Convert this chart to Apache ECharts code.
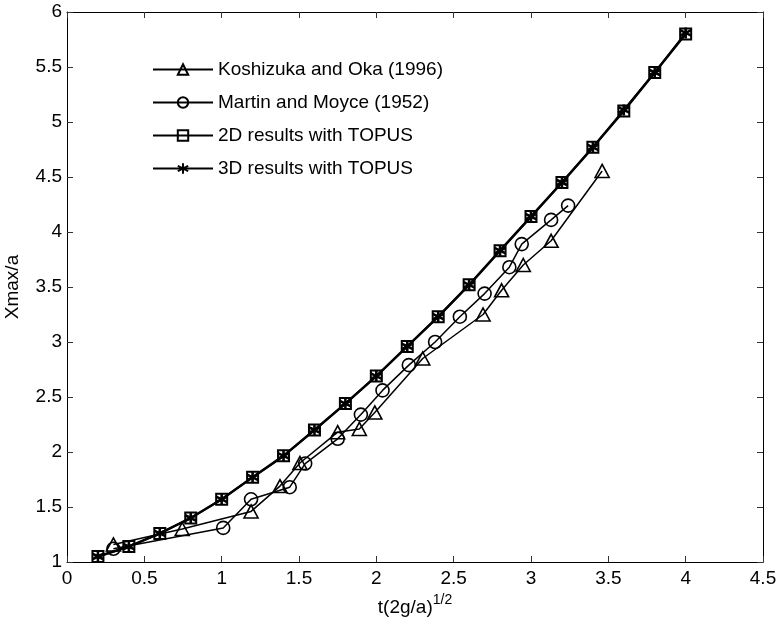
<!DOCTYPE html>
<html>
<head>
<meta charset="utf-8">
<script src="https://cdn.jsdelivr.net/npm/echarts@6/dist/echarts.min.js"></script>
<style>
  html, body { margin: 0; padding: 0; background: #fff; }
  #chart { width: 779px; height: 625px; }
</style>
</head>
<body>
<div id="chart"></div>
<script>
// Dam-break surge front position: Xmax/a against t(2g/a)^(1/2)

const koshizukaX = [0.30, 0.745, 1.19, 1.377, 1.506, 1.75, 1.89, 1.99, 2.30, 2.69, 2.81, 2.95, 3.13, 3.46];
const koshizukaY = [1.16, 1.30, 1.46, 1.69, 1.90, 2.18, 2.21, 2.36, 2.85, 3.25, 3.47, 3.70, 3.92, 4.555];

const martinX = [0.30, 1.01, 1.19, 1.44, 1.54, 1.75, 1.90, 2.04, 2.21, 2.38, 2.54, 2.70, 2.86, 2.94, 3.13, 3.24];
const martinY = [1.12, 1.31, 1.57, 1.68, 1.895, 2.12, 2.34, 2.56, 2.79, 3.00, 3.23, 3.44, 3.68, 3.89, 4.11, 4.24];

const topusX = [0.2, 0.4, 0.6, 0.8, 1.0, 1.2, 1.4, 1.6, 1.8, 2.0, 2.2, 2.4, 2.6, 2.8, 3.0, 3.2, 3.4, 3.6, 3.8, 4.0];
const topus2DY = [1.05, 1.14, 1.26, 1.40, 1.57, 1.77, 1.965, 2.20, 2.44, 2.69, 2.96, 3.23, 3.52, 3.83, 4.14, 4.45, 4.77, 5.10, 5.45, 5.80];
const topus3DY = [1.05, 1.14, 1.26, 1.40, 1.57, 1.77, 1.965, 2.20, 2.44, 2.69, 2.96, 3.23, 3.52, 3.83, 4.14, 4.45, 4.77, 5.11, 5.45, 5.81];

const seriesNames = [
  'Koshizuka and Oka (1996)',
  'Martin and Moyce (1952)',
  '2D results with TOPUS',
  '3D results with TOPUS'
];

const xTicks = [0, 0.5, 1, 1.5, 2, 2.5, 3, 3.5, 4, 4.5];
const yTicks = [1, 1.5, 2, 2.5, 3, 3.5, 4, 4.5, 5, 5.5, 6];

const FONT = 'Liberation Sans, Arial, sans-serif';
const asterisk = 'path://M5,0L5,10M0.67,2.5L9.33,7.5M0.67,7.5L9.33,2.5';

function pairs(xs, ys) {
  return xs.map((x, i) => [x, ys[i]]);
}

function fmt(v) {
  return String(v);
}

const chart = echarts.init(document.getElementById('chart'), null, { renderer: 'canvas' });

const tickStyle = { show: true, inside: true, length: 6, lineStyle: { color: '#333', width: 1 } };
const lineAxis = { show: true, onZero: false, lineStyle: { color: '#000', width: 1 } };

chart.setOption({
  animation: false,
  backgroundColor: '#fff',
  grid: { left: 67, right: 16, top: 12, bottom: 63, containLabel: false, outerBoundsMode: 'none' },
  legend: {
    orient: 'vertical',
    left: 147,
    top: 54,
    itemWidth: 60,
    itemHeight: 13,
    itemGap: 12,
    textStyle: { fontFamily: FONT, fontSize: 19, color: '#000', lineHeight: 21, padding: [0, 0, 0, 0] },
    data: seriesNames
  },
  xAxis: [
    {
      type: 'value', min: 0, max: 4.5, interval: 0.5,
      name: 't(2g/a){sup|1/2}',
      nameLocation: 'middle', nameGap: 32,
      nameTextStyle: {
        fontFamily: FONT, fontSize: 19, color: '#000', lineHeight: 29, verticalAlign: 'bottom',
        rich: { sup: { fontFamily: FONT, fontSize: 14, color: '#000', verticalAlign: 'top', lineHeight: 29 } }
      },
      axisLine: lineAxis,
      axisTick: tickStyle,
      splitLine: { show: false },
      axisLabel: { fontFamily: FONT, fontSize: 19, color: '#000', margin: 7, formatter: fmt }
    },
    {
      type: 'value', min: 0, max: 4.5, interval: 0.5, position: 'top',
      axisLine: lineAxis, axisTick: tickStyle,
      splitLine: { show: false }, axisLabel: { show: false }
    }
  ],
  yAxis: [
    {
      type: 'value', min: 1, max: 6, interval: 0.5,
      name: 'Xmax/a',
      nameLocation: 'middle', nameGap: 45,
      nameTextStyle: { fontFamily: FONT, fontSize: 19, color: '#000' },
      axisLine: lineAxis,
      axisTick: tickStyle,
      splitLine: { show: false },
      axisLabel: { fontFamily: FONT, fontSize: 19, color: '#000', margin: 5, formatter: fmt }
    },
    {
      type: 'value', min: 1, max: 6, interval: 0.5, position: 'right',
      axisLine: lineAxis, axisTick: tickStyle,
      splitLine: { show: false }, axisLabel: { show: false }
    }
  ],
  series: [
    {
      name: seriesNames[0], type: 'line', data: pairs(koshizukaX, koshizukaY),
      symbol: 'triangle', symbolSize: [14, 13], showAllSymbol: true,
      lineStyle: { color: '#000', width: 1.5 },
      itemStyle: { color: 'rgba(255,255,255,0)', borderColor: '#000', borderWidth: 1.6 },
      z: 2
    },
    {
      name: seriesNames[1], type: 'line', data: pairs(martinX, martinY),
      symbol: 'circle', symbolSize: 13, showAllSymbol: true,
      lineStyle: { color: '#000', width: 1.5 },
      itemStyle: { color: 'rgba(255,255,255,0)', borderColor: '#000', borderWidth: 1.6 },
      z: 3
    },
    {
      name: seriesNames[2], type: 'line', data: pairs(topusX, topus2DY),
      symbol: 'rect', symbolSize: 11, showAllSymbol: true,
      lineStyle: { color: '#000', width: 2.5 },
      itemStyle: { color: 'rgba(255,255,255,0)', borderColor: '#000', borderWidth: 2 },
      z: 4
    },
    {
      name: seriesNames[3], type: 'line', data: pairs(topusX, topus3DY),
      symbol: asterisk, symbolSize: 11, showAllSymbol: true,
      lineStyle: { color: '#000', width: 2 },
      itemStyle: { color: 'rgba(255,255,255,0)', borderColor: '#000', borderWidth: 2.6 },
      z: 5
    }
  ]
});
</script>
</body>
</html>
